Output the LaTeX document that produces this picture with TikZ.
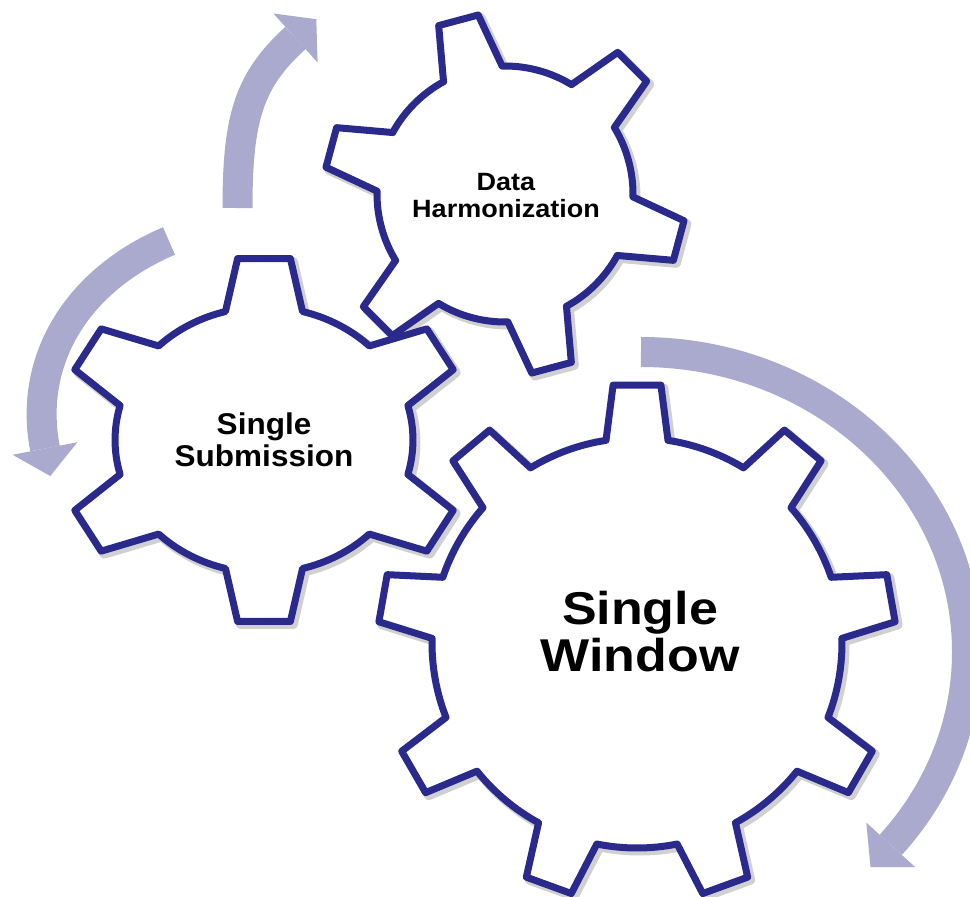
\documentclass[tikz,border=0pt]{standalone}
\usepackage{fontspec}
\setmainfont{Liberation Sans}
\newfontfamily\fdh[FakeStretch=1.08]{Liberation Sans}
\newfontfamily\fss[FakeStretch=1.05]{Liberation Sans}
\newfontfamily\fsw[FakeStretch=1.13]{Liberation Sans}
\usetikzlibrary{calc}
\definecolor{gearline}{RGB}{42,42,140}
\definecolor{flowc}{RGB}{170,170,206}
\definecolor{shadowc}{RGB}{208,208,208}

% #1 teeth, #2 tip radius, #3 root radius, #4 tip half-angle, #5 base half-angle, #6 first tooth angle
\newcommand{\gearshape}[6]{%
  (#6-#5:#3)
  \foreach \k [evaluate=\k as \ga using #6+(\k-1)*360/#1] in {1,...,#1}{
    -- (\ga-#5:#3) -- (\ga-#4:#2) -- (\ga+#4:#2) -- (\ga+#5:#3)
    arc[start angle=\ga+#5, end angle=\ga+360/#1-#5, radius=#3]
  }%
}
\newcommand{\allgears}[1]{%
  \path[#1, shift={(505,194)}] \gearshape{6}{181}{128}{6.5}{13.7}{-105} -- cycle;
  \path[#1, shift={(264,440)}, xscale=1.12] \gearshape{6}{183}{133}{7.4}{15}{-90} -- cycle;
  \path[#1, shift={(637,643)}] \gearshape{9}{259}{205}{5.3}{8.7}{-90} -- cycle;
}

\begin{document}
\begin{tikzpicture}[x=1pt,y=-1pt,
  flow/.style={draw=flowc, line width=30pt},
  flowhead/.style={fill=flowc},
  lbl/.style={align=center, inner sep=0pt, text=black}]
\useasboundingbox (0,0) rectangle (970,897);
\fill[white] (0,0) rectangle (970,897);
\clip (0,0) rectangle (970,897);

% arrow 1 (up toward Data Harmonization)
\coordinate (a1s) at (237.5,208);
\coordinate (a1b) at (295.5,38);
\draw[flow] (a1s) .. controls (237.5,118) and (248.8,80.2) .. (a1b);
\coordinate (a1w1) at (317.6,62.5);
\coordinate (a1w2) at (273.4,13.5);
\coordinate (a1t) at (316.3,19.2);
\fill[flowhead] (a1w1) -- (a1t) -- (a1w2) -- cycle;

% arrow 2 (down along Single Submission)
\coordinate (a2s) at (169,241);
\coordinate (a2b) at (45,448.5);
\draw[flow] (a2s) .. controls (77,280) and (27.9,360.3) .. (a2b);
\coordinate (a2w1) at (77.4,442.2);
\coordinate (a2w2) at (12.6,454.8);
\coordinate (a2t) at (50.3,476);
\fill[flowhead] (a2w1) -- (a2t) -- (a2w2) -- cycle;

% arrow 3 (around Single Window)
\coordinate (a3s) at (641,352);
\draw[flow] (a3s) arc[start angle=-90, end angle=40, x radius=326, y radius=300] coordinate (a3b);
\coordinate (a3w1) at (915.1,867.0);
\coordinate (a3w2) at (866.3,822.6);
\coordinate (a3t) at (870.5,867.0);
\fill[flowhead] (a3w1) -- (a3t) -- (a3w2) -- cycle;

% gears
\allgears{draw=shadowc, line width=9pt, line join=round, shift={(3,3)}}
\allgears{fill=white}
\allgears{draw=gearline, line width=7pt, line join=round}

% labels
\node[lbl, font=\fdh\bfseries\fontsize{25}{27.3}\selectfont] (dh) at (506,195.4) {Data\\Harmonization};
\node[lbl, font=\fss\bfseries\fontsize{30}{31.7}\selectfont] (ss) at (264,440) {Single\\Submission};
\node[lbl, font=\fsw\bfseries\fontsize{46}{46.7}\selectfont] (sw) at (640,631.6) {Single\\Window};
\end{tikzpicture}
\end{document}
